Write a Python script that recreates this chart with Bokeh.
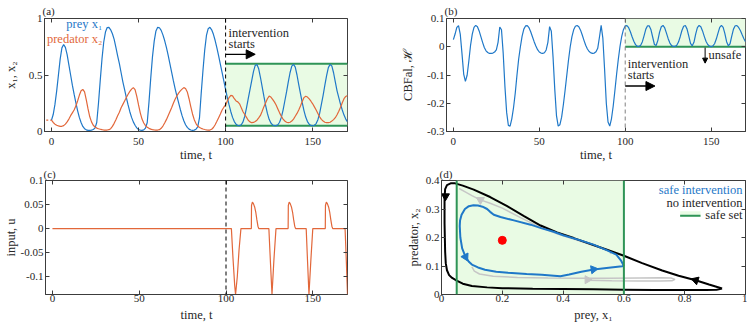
import math
from bokeh.plotting import figure
from bokeh.layouts import column, row
from bokeh.models import (Range1d, FixedTicker, CustomJSTickFormatter, LinearAxis,
                          Label, Arrow, NormalHead, Span, BoxAnnotation)
from bokeh.embed import file_html
from bokeh.resources import INLINE

# ---------------- data ----------------
time = list(range(0, 171))

prey_x1 = [
    0.100, 0.150, 0.240, 0.360, 0.500, 0.640, 0.740, 0.770, 0.745, 0.680,
    0.590, 0.500, 0.410, 0.330, 0.255, 0.185, 0.125, 0.080, 0.045, 0.025,
    0.015, 0.010, 0.010, 0.012, 0.018, 0.030, 0.080, 0.250, 0.450, 0.640,
    0.790, 0.880, 0.920, 0.922, 0.900, 0.865, 0.815, 0.745, 0.670, 0.600,
    0.520, 0.440, 0.370, 0.300, 0.235, 0.175, 0.125, 0.085, 0.055, 0.032,
    0.018, 0.012, 0.010, 0.014, 0.030, 0.080, 0.260, 0.470, 0.660, 0.800,
    0.890, 0.922, 0.918, 0.895, 0.855, 0.805, 0.745, 0.675, 0.600, 0.525,
    0.450, 0.380, 0.315, 0.255, 0.195, 0.140, 0.095, 0.060, 0.036, 0.021,
    0.013, 0.010, 0.012, 0.020, 0.040, 0.120, 0.340, 0.540, 0.720, 0.850,
    0.910, 0.922, 0.900, 0.860, 0.805, 0.740, 0.670, 0.595, 0.520, 0.445,
    0.370, 0.300, 0.235, 0.175, 0.125, 0.088, 0.064, 0.053, 0.052, 0.060,
    0.085, 0.135, 0.210, 0.290, 0.370, 0.450, 0.530, 0.585, 0.592, 0.555,
    0.480, 0.395, 0.310, 0.230, 0.160, 0.108, 0.075, 0.058, 0.052, 0.052,
    0.060, 0.082, 0.125, 0.190, 0.270, 0.350, 0.440, 0.520, 0.578, 0.594,
    0.570, 0.500, 0.415, 0.335, 0.255, 0.185, 0.128, 0.088, 0.065, 0.054,
    0.051, 0.055, 0.070, 0.105, 0.160, 0.240, 0.320, 0.410, 0.495, 0.565,
    0.594, 0.580, 0.520, 0.440, 0.360, 0.300, 0.240, 0.190, 0.145, 0.110,
    0.085]

predator_x2 = [
    0.100, 0.080, 0.065, 0.055, 0.050, 0.046, 0.046, 0.052, 0.065, 0.085,
    0.110, 0.140, 0.165, 0.190, 0.225, 0.270, 0.320, 0.360, 0.372, 0.350,
    0.280, 0.200, 0.130, 0.085, 0.055, 0.040, 0.030, 0.024, 0.020, 0.016,
    0.013, 0.012, 0.013, 0.016, 0.025, 0.045, 0.072, 0.105, 0.140, 0.170,
    0.210, 0.240, 0.270, 0.300, 0.330, 0.355, 0.375, 0.388, 0.370, 0.310,
    0.235, 0.165, 0.110, 0.075, 0.052, 0.038, 0.028, 0.021, 0.017, 0.014,
    0.013, 0.013, 0.016, 0.028, 0.048, 0.075, 0.105, 0.140, 0.175, 0.210,
    0.250, 0.285, 0.315, 0.340, 0.360, 0.375, 0.388, 0.380, 0.350, 0.290,
    0.220, 0.155, 0.105, 0.070, 0.048, 0.036, 0.028, 0.022, 0.018, 0.015,
    0.013, 0.013, 0.020, 0.035, 0.060, 0.090, 0.122, 0.155, 0.190, 0.215,
    0.235, 0.270, 0.300, 0.320, 0.315, 0.290, 0.270, 0.262, 0.245, 0.210,
    0.175, 0.150, 0.125, 0.100, 0.085, 0.078, 0.080, 0.088, 0.100, 0.120,
    0.142, 0.180, 0.220, 0.255, 0.290, 0.313, 0.305, 0.285, 0.262, 0.235,
    0.200, 0.165, 0.135, 0.110, 0.093, 0.082, 0.078, 0.082, 0.092, 0.110,
    0.135, 0.160, 0.190, 0.225, 0.265, 0.300, 0.312, 0.305, 0.288, 0.268,
    0.245, 0.218, 0.190, 0.160, 0.130, 0.108, 0.092, 0.082, 0.078, 0.078,
    0.082, 0.092, 0.105, 0.122, 0.148, 0.180, 0.215, 0.255, 0.290, 0.310,
    0.318]

cbf_h = [
    0.0250, 0.0450, 0.0684, 0.0744, 0.0450, -0.0236, -0.0966, -0.1224, -0.1008, -0.0504,
    0.0054, 0.0450, 0.0684, 0.0756, 0.0707, 0.0560, 0.0356, 0.0156, -0.0028, -0.0144,
    -0.0205, -0.0236, -0.0236, -0.0223, -0.0186, -0.0114, 0.0156, 0.0700, 0.0600, -0.0236,
    -0.1406, -0.2324, -0.2784, -0.2808, -0.2550, -0.2160, -0.1645, -0.1008, -0.0434, 0.0000,
    0.0376, 0.0624, 0.0736, 0.0750, 0.0675, 0.0531, 0.0356, 0.0180, 0.0027, -0.0102,
    -0.0186, -0.0223, -0.0236, -0.0211, -0.0114, 0.0156, 0.0714, 0.0546, -0.0366, -0.1500,
    -0.2436, -0.2808, -0.2760, -0.2493, -0.2053, -0.1548, -0.1008, -0.0469, 0.0000, 0.0356,
    0.0600, 0.0726, 0.0755, 0.0707, 0.0587, 0.0414, 0.0227, 0.0054, -0.0079, -0.0168,
    -0.0217, -0.0236, -0.0223, -0.0174, -0.0056, 0.0336, 0.0754, 0.0294, -0.0804, -0.2000,
    -0.2666, -0.2808, -0.2550, -0.2106, -0.1548, -0.0966, -0.0434, 0.0027, 0.0376, 0.0612,
    0.0736, 0.0750, 0.0675, 0.0531, 0.0356, 0.0195, 0.0075, 0.0016, 0.0011, 0.0054,
    0.0180, 0.0395, 0.0624, 0.0744, 0.0736, 0.0600, 0.0336, 0.0080, 0.0043, 0.0227,
    0.0516, 0.0707, 0.0754, 0.0666, 0.0484, 0.0285, 0.0131, 0.0043, 0.0011, 0.0011,
    0.0054, 0.0166, 0.0356, 0.0574, 0.0726, 0.0750, 0.0624, 0.0376, 0.0116, 0.0033,
    0.0156, 0.0450, 0.0675, 0.0755, 0.0707, 0.0560, 0.0368, 0.0195, 0.0080, 0.0022,
    0.0005, 0.0027, 0.0106, 0.0272, 0.0484, 0.0684, 0.0756, 0.0684, 0.0467, 0.0180,
    0.0033, 0.0106, 0.0376, 0.0624, 0.0744, 0.0750, 0.0684, 0.0574, 0.0432, 0.0294,
    0.0180]

u_time = [0, 103.1, 104.0, 105.0, 105.5, 106.5, 107.5, 108.6,
          114.6, 114.7, 115.2, 115.8, 116.5, 117.2, 117.8, 118.4, 118.9,
          124.7, 125.6, 126.5, 127.6, 128.8,
          135.8, 135.9, 136.4, 137.0, 137.7, 138.4, 139.0, 139.6, 140.1,
          146.2, 147.0, 147.8, 148.9, 150.0,
          157.2, 157.3, 157.8, 158.4, 159.1, 159.8, 160.4, 161.0, 161.5,
          168.6, 169.3, 170.0]
u_input = [0, 0, -0.060, -0.118, -0.137, -0.100, -0.045, 0,
           0, 0.048, 0.055, 0.052, 0.045, 0.033, 0.018, 0.005, 0,
           0, -0.070, -0.137, -0.065, 0,
           0, 0.048, 0.055, 0.052, 0.045, 0.033, 0.018, 0.005, 0,
           0, -0.070, -0.137, -0.065, 0,
           0, 0.048, 0.055, 0.052, 0.045, 0.033, 0.018, 0.005, 0,
           0, -0.065, -0.137]

init_time = [-3, 0]
init_value = [0.1, 0.1]

t_intervention = 100
t_end = 170
safe_low = 0.05
safe_high = 0.6

# phase portrait (prey, predator)
noint_x = [0.923, 0.880, 0.836, 0.780, 0.726, 0.660, 0.600, 0.523, 0.435, 0.380,
           0.326, 0.270, 0.216, 0.160, 0.106, 0.070, 0.045, 0.030, 0.018, 0.012,
           0.010, 0.010, 0.010, 0.011, 0.012, 0.014, 0.018, 0.025, 0.035, 0.050,
           0.070, 0.100, 0.150, 0.200, 0.300, 0.400, 0.500, 0.600, 0.700, 0.800,
           0.870, 0.905, 0.923]
noint_y = [0.021, 0.035, 0.050, 0.066, 0.084, 0.110, 0.136, 0.165, 0.198, 0.218,
           0.242, 0.276, 0.310, 0.342, 0.368, 0.382, 0.390, 0.390, 0.384, 0.370,
           0.340, 0.300, 0.250, 0.200, 0.150, 0.110, 0.085, 0.068, 0.058, 0.049,
           0.038, 0.030, 0.025, 0.022, 0.020, 0.019, 0.018, 0.017, 0.016, 0.016,
           0.016, 0.017, 0.021]

safe_x = [0.600, 0.590, 0.575, 0.545, 0.500, 0.457, 0.400, 0.369, 0.330, 0.293,
          0.238, 0.194, 0.172, 0.160, 0.150, 0.135, 0.120, 0.105, 0.090, 0.077,
          0.066, 0.061, 0.060, 0.062, 0.068, 0.079, 0.090, 0.100, 0.120, 0.143,
          0.180, 0.219, 0.280, 0.330, 0.370, 0.391, 0.420, 0.460, 0.501, 0.550,
          0.594, 0.600]
safe_y = [0.100, 0.120, 0.140, 0.155, 0.175, 0.190, 0.208, 0.220, 0.232, 0.245,
          0.260, 0.272, 0.280, 0.290, 0.300, 0.308, 0.312, 0.313, 0.310, 0.300,
          0.280, 0.260, 0.240, 0.200, 0.162, 0.132, 0.115, 0.105, 0.095, 0.087,
          0.080, 0.076, 0.072, 0.069, 0.066, 0.064, 0.070, 0.080, 0.088, 0.094,
          0.099, 0.100]

ghost_upper_x = [0.555, 0.560, 0.545, 0.500, 0.440, 0.380, 0.320, 0.260, 0.200,
                 0.160, 0.128, 0.100, 0.075, 0.058]
ghost_upper_y = [0.143, 0.150, 0.158, 0.172, 0.193, 0.213, 0.238, 0.270, 0.303,
                 0.320, 0.332, 0.347, 0.362, 0.372]
ghost_lower_x = [0.100, 0.108, 0.125, 0.170, 0.250, 0.350, 0.450, 0.550, 0.650,
                 0.720, 0.755, 0.768, 0.758, 0.720, 0.650, 0.560, 0.480]
ghost_lower_y = [0.097, 0.082, 0.072, 0.064, 0.060, 0.058, 0.057, 0.057, 0.058,
                 0.059, 0.058, 0.053, 0.048, 0.047, 0.047, 0.048, 0.050]

equilibrium_x = [0.20]
equilibrium_y = [0.19]

noint_arrow_x = [0.013, 0.836]
noint_arrow_y = [0.345, 0.050]
noint_arrow_angle = [math.pi, 1.26]
safe_arrow_x = [0.079, 0.500]
safe_arrow_y = [0.132, 0.088]
safe_arrow_angle = [-2.67, -1.42]
ghost_arrow_x = [0.128, 0.480]
ghost_arrow_y = [0.332, 0.052]
ghost_arrow_angle = [1.05, -math.pi / 2]

# ticks
time_ticks = [0, 50, 100, 150]
time_tick_labels = ["0", "50", "100", "150"]
a_yticks = [0, 0.5, 1]
a_ylabels = ["0", "0.5", "1"]
b_yticks = [-0.3, -0.2, -0.1, 0, 0.1]
b_ylabels = ["-0.3", "-0.2", "-0.1", "0", "0.1"]
c_yticks = [-0.1, -0.05, 0, 0.05, 0.1]
c_ylabels = ["-0.1", "-0.05", "0", "0.05", "0.1"]
d_xticks = [0, 0.2, 0.4, 0.6, 0.8, 1]
d_xlabels = ["0", "0.2", "0.4", "0.6", "0.8", "1"]
d_yticks = [0, 0.1, 0.2, 0.3, 0.4]
d_ylabels = ["0", "0.1", "0.2", "0.3", "0.4"]

# ---------------- styles ----------------
FONT = "Liberation Serif"
AX = "#3c3c3c"
TXT = "#262626"
BLUE = "#1f78c8"
ORANGE = "#e2673a"
GREEN = "#2f9457"
SAFE_FILL = "#e9fbe4"
GRAY = "#c6c6c6"

JS_FMT = """
for (let i = 0; i < vals.length; i++) {
  if (Math.abs(vals[i] - tick) < 1e-9) { return labs[i]; }
}
return "";
"""


def new_fig(w, h, xr, yr, bl, br, bt, bb, tag, title_sd):
    p = figure(width=w, height=h, x_range=Range1d(*xr), y_range=Range1d(*yr),
               output_backend="svg", toolbar_location=None,
               min_border_left=bl, min_border_right=br,
               min_border_top=bt, min_border_bottom=bb, title=tag)
    p.grid.visible = False
    p.outline_line_color = AX
    p.background_fill_color = "white"
    p.border_fill_color = "white"
    p.title.text_font = FONT
    p.title.text_font_size = "11px"
    p.title.text_font_style = "normal"
    p.title.text_color = TXT
    p.title.align = "left"
    p.title.offset = -2
    p.title.standoff = title_sd
    return p


def style_axis(ax, ticks, labels, title, tick_sd, title_sd):
    ax.ticker = FixedTicker(ticks=ticks)
    ax.formatter = CustomJSTickFormatter(args=dict(vals=ticks, labs=labels), code=JS_FMT)
    ax.axis_label = title
    ax.axis_label_text_font = FONT
    ax.axis_label_text_font_size = "12.5px"
    ax.axis_label_text_font_style = "normal"
    ax.axis_label_text_color = TXT
    ax.axis_label_standoff = title_sd
    ax.major_label_text_font = FONT
    ax.major_label_text_font_size = "11px"
    ax.major_label_text_color = TXT
    ax.major_label_standoff = tick_sd
    ax.major_tick_in = 4
    ax.major_tick_out = 0
    ax.major_tick_line_color = AX
    ax.minor_tick_line_color = None
    ax.axis_line_color = AX


def mirror(p, xticks, yticks):
    for ticks, side in ((xticks, "above"), (yticks, "right")):
        ax = LinearAxis(ticker=FixedTicker(ticks=ticks),
                        formatter=CustomJSTickFormatter(code='return "";'),
                        major_label_text_font_size="0px", major_label_standoff=0,
                        major_tick_in=4, major_tick_out=0, major_tick_line_color=AX,
                        minor_tick_line_color=None, axis_line_color=None)
        p.add_layout(ax, side)


def text(p, x, y, s, color=TXT, align="left", size="12.5px", baseline="middle"):
    p.add_layout(Label(x=x, y=y, text=s, text_color=color, text_align=align,
                       text_baseline=baseline, text_font=FONT, text_font_size=size))


# ---------------- (a) ----------------
pa = new_fig(398, 165, (-4, t_end), (0, 1), 44, 51, 18, 34, "(a)", 4)
style_axis(pa.xaxis[0], time_ticks, time_tick_labels, "time, t", 6, 0)
style_axis(pa.yaxis[0], a_yticks, a_ylabels, "x\u2081, x\u2082", 2, 8)
mirror(pa, time_ticks, a_yticks)
pa.add_layout(BoxAnnotation(left=t_intervention, right=t_end, bottom=safe_low, top=safe_high,
                            fill_color=SAFE_FILL, fill_alpha=1, line_alpha=0, level="underlay"))
pa.segment(x0=[t_intervention, t_intervention], x1=[t_end, t_end],
           y0=[safe_low, safe_high], y1=[safe_low, safe_high], line_color=GREEN, line_width=2)
pa.line(time, prey_x1, line_color=BLUE, line_width=1.2)
pa.line(time, predator_x2, line_color=ORANGE, line_width=1.2)
pa.line(init_time, init_value, line_color=ORANGE, line_dash="2 2", line_width=1.2)
pa.add_layout(Span(location=t_intervention, dimension="height", line_color="black",
                   line_dash="4 3", line_width=1))
text(pa, 29.2, 0.95, "prey x\u2081", color=BLUE, align="right")
text(pa, 29.2, 0.822, "predator x\u2082", color=ORANGE, align="right")
text(pa, 101.7, 0.876, "intervention")
text(pa, 101.7, 0.778, "starts")
pa.add_layout(Arrow(end=NormalHead(size=9, fill_color="black", line_color="black"),
                    x_start=t_intervention, y_start=0.683, x_end=117, y_end=0.683,
                    line_width=1.3, line_color="black"))

# ---------------- (b) ----------------
pb = new_fig(349, 165, (-4, t_end), (-0.3, 0.1), 46, 2, 18, 34, "(b)", 4)
style_axis(pb.xaxis[0], time_ticks, time_tick_labels, "time, t", 6, 0)
style_axis(pb.yaxis[0], b_yticks, b_ylabels, "CBFal, \u210b", 2, 9)
mirror(pb, time_ticks, b_yticks)
pb.add_layout(BoxAnnotation(left=t_intervention, right=t_end, bottom=0, top=0.1,
                            fill_color=SAFE_FILL, fill_alpha=1, line_alpha=0, level="underlay"))
pb.segment(x0=[t_intervention], x1=[t_end], y0=[0], y1=[0], line_color=GREEN, line_width=2)
pb.line(time, cbf_h, line_color=BLUE, line_width=1.2)
pb.add_layout(Span(location=t_intervention, dimension="height", line_color="#808080",
                   line_dash="4 3", line_width=1))
text(pb, 101.5, -0.060, "intervention")
text(pb, 101.5, -0.101, "starts")
pb.add_layout(Arrow(end=NormalHead(size=9, fill_color="black", line_color="black"),
                    x_start=t_intervention, y_start=-0.139, x_end=117.3, y_end=-0.139,
                    line_width=1.3, line_color="black"))
text(pb, 148.5, -0.028, "unsafe")
pb.add_layout(Arrow(end=NormalHead(size=5, fill_color="black", line_color="black"),
                    x_start=146.5, y_start=-0.003, x_end=146.5, y_end=-0.058,
                    line_width=1, line_color="black"))

# ---------------- (c) ----------------
pc = new_fig(398, 160, (-4, t_end), (-0.137, 0.1), 43, 51, 15, 31, "(c)", 1)
style_axis(pc.xaxis[0], time_ticks, time_tick_labels, "time, t", 0, 3)
style_axis(pc.yaxis[0], c_yticks, c_ylabels, "input, u", 2, 0)
mirror(pc, time_ticks, c_yticks)
pc.line(u_time, u_input, line_color=ORANGE, line_width=1.2)
pc.add_layout(Span(location=t_intervention, dimension="height", line_color="black",
                   line_dash="4 3", line_width=1))

# ---------------- (d) ----------------
pd = new_fig(349, 160, (0, 1), (0, 0.4), 43, 2, 15, 31, "(d)", 1)
style_axis(pd.xaxis[0], d_xticks, d_xlabels, "prey, x\u2081", 0, 3)
style_axis(pd.yaxis[0], d_yticks, d_ylabels, "predator, x\u2082", 2, 2)
mirror(pd, d_xticks, d_yticks)
pd.add_layout(BoxAnnotation(left=safe_low, right=safe_high, fill_color=SAFE_FILL,
                            fill_alpha=1, line_alpha=0, level="underlay"))
pd.add_layout(Span(location=safe_low, dimension="height", line_color=GREEN, line_width=2))
pd.add_layout(Span(location=safe_high, dimension="height", line_color=GREEN, line_width=2))
pd.line(ghost_upper_x, ghost_upper_y, line_color=GRAY, line_width=1.5)
pd.line(ghost_lower_x, ghost_lower_y, line_color=GRAY, line_width=1.5)
pd.scatter(ghost_arrow_x, ghost_arrow_y, marker="triangle", size=8, angle=ghost_arrow_angle,
           fill_color=GRAY, line_color=GRAY)
pd.line(noint_x, noint_y, line_color="black", line_width=2)
pd.scatter(noint_arrow_x, noint_arrow_y, marker="triangle", size=8, angle=noint_arrow_angle,
           fill_color="black", line_color="black")
pd.line(safe_x, safe_y, line_color=BLUE, line_width=2)
pd.scatter(safe_arrow_x, safe_arrow_y, marker="triangle", size=8, angle=safe_arrow_angle,
           fill_color=BLUE, line_color=BLUE)
pd.scatter(equilibrium_x, equilibrium_y, size=8, fill_color="red", line_color="red")
text(pd, 0.99, 0.365, "safe intervention", color=BLUE, align="right")
text(pd, 0.99, 0.322, "no intervention", align="right")
text(pd, 0.99, 0.280, "safe set", align="right")
pd.quad(left=[0.785], right=[0.852], bottom=[0.272], top=[0.292], fill_color=SAFE_FILL,
        line_color=None)
pd.segment(x0=[0.785], x1=[0.852], y0=[0.276], y1=[0.276], line_color=GREEN, line_width=2)

layout = column(row(pa, pb), row(pc, pd))
open("out.html", "w").write(file_html(layout, INLINE, title="chart"))
